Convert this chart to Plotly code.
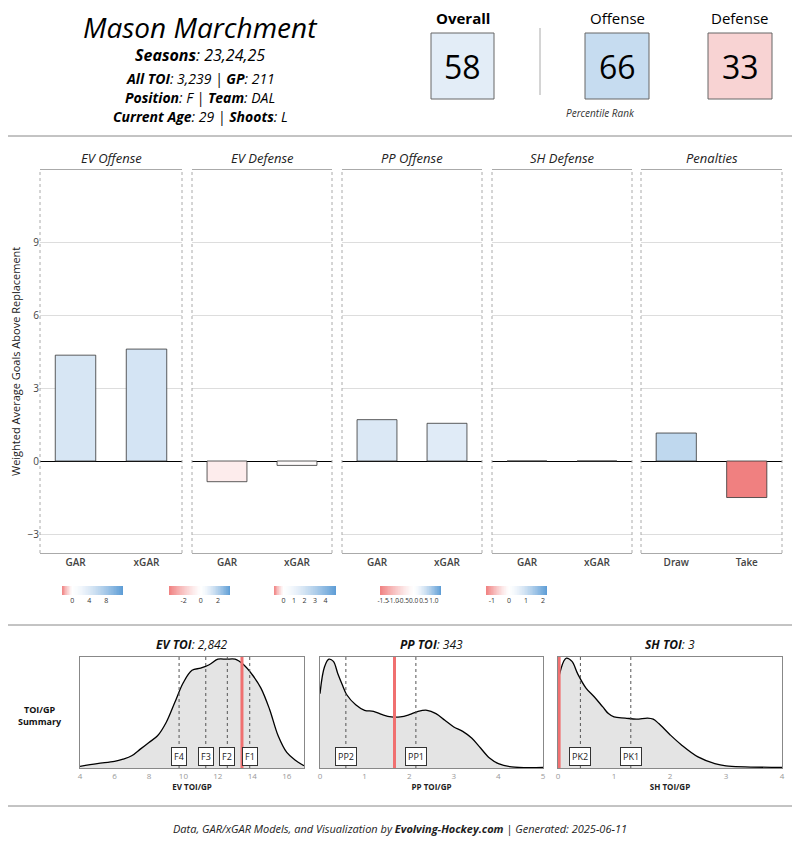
import plotly.graph_objects as go
from plotly.colors import sample_colorscale

# --- data ---
player = "Mason Marchment"
panels = ["EV Offense", "EV Defense", "PP Offense", "SH Defense", "Penalties"]
bar_cats = [["GAR", "xGAR"], ["GAR", "xGAR"], ["GAR", "xGAR"], ["GAR", "xGAR"], ["Draw", "Take"]]
bar_vals = [[4.35, 4.6], [-0.85, -0.18], [1.7, 1.55], [0.0, 0.0], [1.15, -1.5]]
cbar_ranges = [[-2.4, 11.9], [-3.7, 3.4], [-0.9, 5.0], [-1.65, 1.35], [-1.35, 2.24]]
cbar_ticks = [[0, 4, 8], [-2, 0, 2], [0, 1, 2, 3, 4], [-1.5, -1.0, -0.5, 0.0, 0.5, 1.0], [-1, 0, 1, 2]]
cbar_ticktext = [["0", "4", "8"], ["-2", "0", "2"], ["0", "1", "2", "3", "4"],
                 ["-1.5", "-1.0", "-0.5", "0.0", "0.5", "1.0"], ["-1", "0", "1", "2"]]
pct_labels = ["Overall", "Offense", "Defense"]
pct_values = [58, 66, 33]

ev_x = [4, 5, 6, 6.5, 7, 7.5, 8, 8.5, 9, 9.5, 10, 10.5, 11, 11.5, 12, 12.5, 13, 13.5, 14, 14.5, 15, 15.5, 16, 16.5, 17]
ev_y = [0.015, 0.04, 0.06, 0.08, 0.11, 0.17, 0.23, 0.29, 0.41, 0.59, 0.77, 0.88, 0.90, 0.93, 0.98, 0.98, 0.98, 0.93, 0.84, 0.72, 0.53, 0.29, 0.14, 0.07, 0.02]
pp_x = [0, 0.1, 0.2, 0.3, 0.4, 0.5, 0.6, 0.8, 1.0, 1.2, 1.4, 1.6, 1.8, 2.0, 2.2, 2.4, 2.6, 2.8, 3.0, 3.2, 3.4, 3.6, 3.8, 4.0, 4.3, 5.0]
pp_y = [0.67, 0.91, 0.98, 0.96, 0.85, 0.75, 0.66, 0.57, 0.52, 0.51, 0.48, 0.46, 0.46, 0.48, 0.51, 0.52, 0.49, 0.43, 0.37, 0.33, 0.27, 0.18, 0.09, 0.04, 0.01, 0.005]
sh_x = [0, 0.1, 0.15, 0.25, 0.35, 0.5, 0.65, 0.8, 0.9, 1.0, 1.2, 1.4, 1.6, 1.7, 1.8, 2.0, 2.2, 2.5, 2.8, 3.0, 4.0]
sh_y = [0.79, 0.96, 0.99, 0.96, 0.85, 0.72, 0.64, 0.55, 0.49, 0.46, 0.45, 0.44, 0.45, 0.44, 0.40, 0.30, 0.21, 0.10, 0.04, 0.02, 0.005]
dens_x = [ev_x, pp_x, sh_x]
dens_y = [ev_y, pp_y, sh_y]
dens_range = [[4, 17], [0, 5], [0, 4]]
dens_ticks = [[4, 6, 8, 10, 12, 14, 16], [0, 1, 2, 3, 4, 5], [0, 1, 2, 3, 4]]
dens_titles = ["<b><i>EV TOI</i></b><i>: 2,842</i>", "<b><i>PP TOI</i></b><i>: 343</i>", "<b><i>SH TOI</i></b><i>: 3</i>"]
dens_xtitles = ["EV TOI/GP", "PP TOI/GP", "SH TOI/GP"]
dens_marks = [[("F4", 9.75), ("F3", 11.3), ("F2", 12.55), ("F1", 13.85)],
              [("PP2", 0.58), ("PP1", 2.15)],
              [("PK2", 0.4), ("PK1", 1.3)]]
player_toi = [13.4, 1.67, 0.02]

RED, BLUE = "#F08080", "#5B9BD5"
FONT = "Open Sans"
W, H = 800, 850


# page coords (screenshot pixels) -> paper fraction; the page body adds an 8px offset
def px(x):
    return (x - 8) / W


def py(y):
    return 1 - (y - 8) / H


def scale_for(lo, hi):
    # diverging red-white-blue, white at zero, eased so small values stay pale
    z0 = (0 - lo) / (hi - lo)
    stops = []
    for k in range(11):
        t = k / 10
        stops.append([z0 * t, sample_colorscale([[0, RED], [1, "#FFFFFF"]], [1 - (1 - t) ** 1.3])[0]])
    for k in range(1, 11):
        t = k / 10
        stops.append([z0 + (1 - z0) * t, sample_colorscale([[0, "#FFFFFF"], [1, BLUE]], [t ** 1.4])[0]])
    return stops


fig = go.Figure()
layout = {}
annotations = []
shapes = []

bar_px = [(40, 182), (192, 332), (342, 482), (492, 632), (641, 782)]
cbar_px = [(62, 123), (169, 230), (274, 336), (380, 441), (486, 547)]

for i in range(5):
    n = i + 1
    ax = "" if n == 1 else str(n)
    lo, hi = cbar_ranges[i]
    cs = scale_for(lo, hi)
    cols = [sample_colorscale(cs, [min(max((v - lo) / (hi - lo), 0), 1)])[0] for v in bar_vals[i]]
    fig.add_trace(go.Bar(x=bar_cats[i], y=bar_vals[i], marker=dict(color=cols, line=dict(color="#333333", width=0.8)),
                         width=0.57, xaxis="x" + ax, yaxis="y" + ax, showlegend=False))
    x0, x1 = bar_px[i]
    layout["xaxis" + ax] = dict(domain=[px(x0), px(x1)], anchor="y" + ax, showline=True, mirror=True, linecolor="#aaaaaa",
                                ticks="", tickfont=dict(size=10, color="#444", family=FONT + " Semibold"),
                                automargin=False)
    layout["yaxis" + ax] = dict(domain=[py(553), py(170)], anchor="x" + ax, range=[-3.78, 11.96],
                                tickvals=[-3, 0, 3, 6, 9], showticklabels=(n == 1), gridcolor="#dddddd",
                                zeroline=True, zerolinecolor="black", zerolinewidth=1, automargin=False,
                                tickfont=dict(size=10, color="#444"))
    for xx in (x0, x1):
        shapes.append(dict(type="line", xref="paper", yref="paper", x0=px(xx), x1=px(xx), y0=py(553), y1=py(170),
                           line=dict(color="#aaaaaa", width=1, dash="dot")))
    annotations.append(dict(text="<i>" + panels[i] + "</i>", x=px((x0 + x1) / 2), y=py(158), xref="paper", yref="paper",
                            showarrow=False, xanchor="center", yanchor="middle", font=dict(size=13, color="#222")))

    # colorbar
    m = n + 5
    cx0, cx1 = cbar_px[i]
    zx = [lo + (hi - lo) * k / 99 for k in range(100)]
    fig.add_trace(go.Heatmap(x=zx, y=[0], z=[zx], colorscale=cs, zmin=lo, zmax=hi, showscale=False,
                             xaxis="x%d" % m, yaxis="y%d" % m, hoverinfo="skip"))
    layout["xaxis%d" % m] = dict(domain=[px(cx0), px(cx1)], anchor="y%d" % m, range=[lo, hi], tickvals=cbar_ticks[i],
                                 ticktext=cbar_ticktext[i], tickfont=dict(size=7 if i != 3 else 6.5, color="#333"),
                                 showgrid=False, zeroline=False, ticks="", tickangle=0, automargin=False)
    layout["yaxis%d" % m] = dict(domain=[py(595), py(586)], anchor="x%d" % m, visible=False, automargin=False)

dens_px = [(80, 304), (320, 543), (558, 782)]
for j in range(3):
    m = 11 + j
    fig.add_trace(go.Scatter(x=dens_x[j], y=dens_y[j], mode="lines", line=dict(color="black", width=1.3, shape="spline"),
                             fill="tozeroy", fillcolor="#E4E4E4", showlegend=False,
                             xaxis="x%d" % m, yaxis="y%d" % m))
    x0, x1 = dens_px[j]
    layout["xaxis%d" % m] = dict(domain=[px(x0), px(x1)], anchor="y%d" % m, range=dens_range[j], tickvals=dens_ticks[j],
                                 showgrid=False, zeroline=False, showline=True, mirror=True, linecolor="#888",
                                 tickfont=dict(size=8, color="#999"), ticks="", automargin=False,
                                 title=dict(text="<b>" + dens_xtitles[j] + "</b>", font=dict(size=8, color="#222"), standoff=4))
    layout["yaxis%d" % m] = dict(domain=[py(768), py(657)], anchor="x%d" % m, range=[0, 1.0], showticklabels=False,
                                 showgrid=False, zeroline=False, showline=True, mirror=True, linecolor="#888",
                                 automargin=False)
    for lab, v in dens_marks[j]:
        shapes.append(dict(type="line", xref="x%d" % m, yref="y%d domain" % m, x0=v, x1=v, y0=0, y1=1,
                           line=dict(color="#555", width=1, dash="dot")))
        annotations.append(dict(text=lab, x=v, y=0.1, xref="x%d" % m, yref="y%d domain" % m, showarrow=False,
                                xanchor="center", yanchor="middle",
                                font=dict(size=9, color="#222"), bgcolor="white", bordercolor="#333",
                                borderwidth=1, borderpad=2))
    shapes.append(dict(type="line", xref="x%d" % m, yref="y%d domain" % m, x0=player_toi[j], x1=player_toi[j],
                       y0=0, y1=1, line=dict(color="#F07070", width=3)))
    annotations.append(dict(text=dens_titles[j], x=px((x0 + x1) / 2), y=py(644), xref="paper", yref="paper",
                            showarrow=False, xanchor="center", yanchor="middle", font=dict(size=12, color="#111")))

# header
header = [
    dict(text="<i>" + player + "</i>", x=px(200), y=py(27), font=dict(size=28, color="black")),
    dict(text="<b><i>Seasons</i></b><i>: 23,24,25</i>", x=px(200), y=py(55), font=dict(size=16, color="black")),
    dict(text="<b><i>All TOI</i></b><i>: 3,239 | </i><b><i>GP</i></b><i>: 211</i>", x=px(200), y=py(78), font=dict(size=14, color="black")),
    dict(text="<b><i>Position</i></b><i>: F | </i><b><i>Team</i></b><i>: DAL</i>", x=px(200), y=py(97), font=dict(size=14, color="black")),
    dict(text="<b><i>Current Age</i></b><i>: 29 | </i><b><i>Shoots</i></b><i>: L</i>", x=px(200), y=py(116), font=dict(size=14, color="black")),
    dict(text="<i>Percentile Rank</i>", x=px(600), y=py(113), font=dict(size=10, color="#333")),
    dict(text="<b>TOI/GP</b><br><b>Summary</b>", x=px(40), y=py(715), font=dict(size=9, color="#111")),
    dict(text="Weighted Average Goals Above Replacement", x=px(15), y=py(362), textangle=-90, font=dict(size=11, color="#222")),
    dict(text="<i>Data, GAR/xGAR Models, and Visualization by </i><b><i>Evolving-Hockey.com</i></b><i> | Generated: 2025-06-11</i>",
         x=px(400), y=py(828), font=dict(size=11, color="#222")),
]
for a in header:
    a.update(xref="paper", yref="paper", showarrow=False, xanchor="center", yanchor="middle")
annotations += header

box_px = [(431, 494), (585, 649), (708, 772)]
box_cols = ["#E3EDF7", "#C6DCF0", "#F8D3D3"]
for k in range(3):
    x0, x1 = box_px[k]
    shapes.append(dict(type="rect", xref="paper", yref="paper", x0=px(x0), x1=px(x1), y0=py(99), y1=py(33),
                       fillcolor=box_cols[k], line=dict(color="#666", width=1)))
    annotations.append(dict(text=str(pct_values[k]), x=px((x0 + x1) / 2), y=py(66), xref="paper", yref="paper",
                            showarrow=False, xanchor="center", yanchor="middle", font=dict(size=32, color="black")))
    lab = "<b>" + pct_labels[k] + "</b>" if k == 0 else pct_labels[k]
    annotations.append(dict(text=lab, x=px((x0 + x1) / 2), y=py(18), xref="paper", yref="paper",
                            showarrow=False, xanchor="center", yanchor="middle", font=dict(size=15, color="black")))

shapes.append(dict(type="line", xref="paper", yref="paper", x0=px(540), x1=px(540), y0=py(95), y1=py(28),
                   line=dict(color="#aaa", width=1)))
for yy in (136, 625, 806):
    shapes.append(dict(type="line", xref="paper", yref="paper", x0=px(8), x1=px(793), y0=py(yy), y1=py(yy),
                       line=dict(color="#888", width=1)))

fig.update_layout(width=W, height=H, margin=dict(l=0, r=0, t=0, b=0), plot_bgcolor="white", paper_bgcolor="white",
                  font=dict(family=FONT, color="#222"), annotations=annotations, shapes=shapes, showlegend=False,
                  **layout)
fig.write_html("out.html")
